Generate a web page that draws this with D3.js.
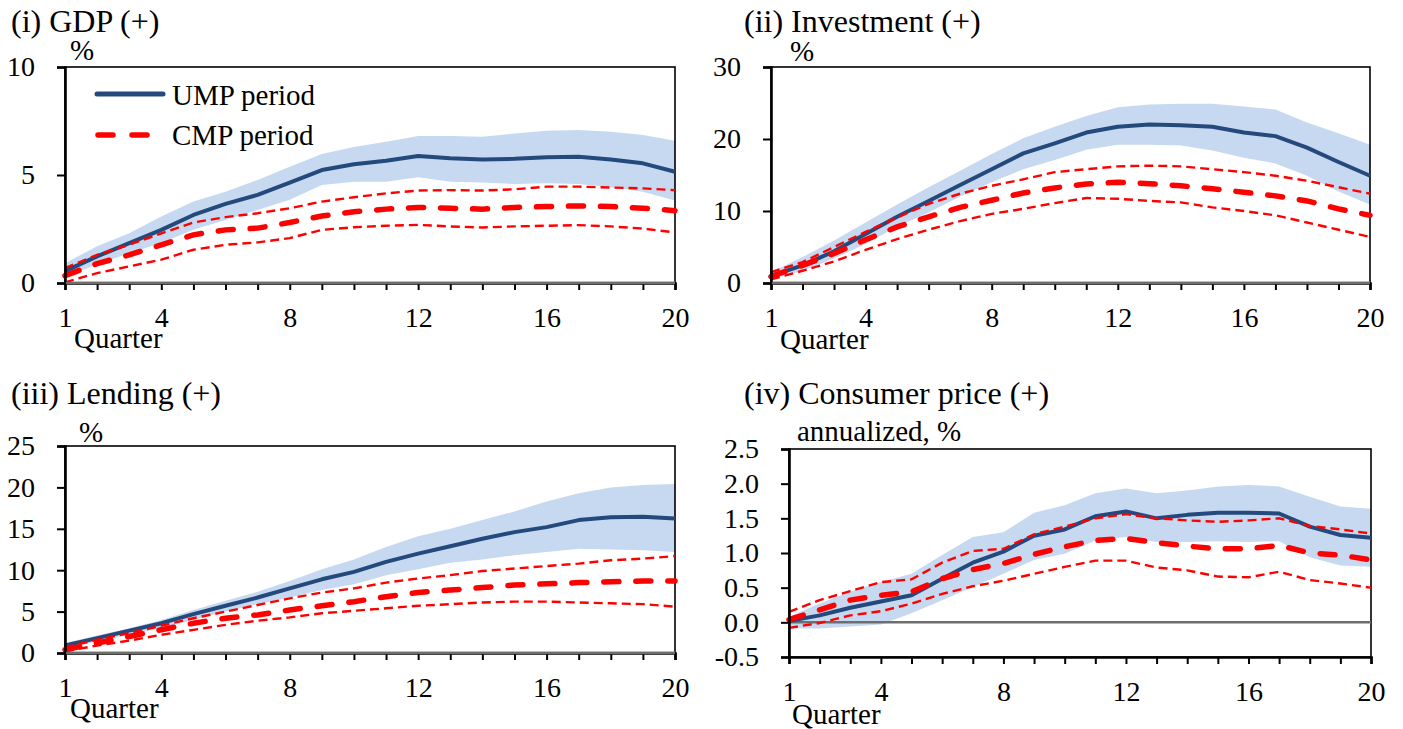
<!DOCTYPE html>
<html>
<head>
<meta charset="utf-8">
<script src="https://cdn.jsdelivr.net/npm/d3@7"></script>
<style>
body { margin: 0; background: #fff; }
text { font-family: "Liberation Serif", "Times New Roman", serif; fill: #000; }
</style>
</head>
<body>
<svg id="chart" width="1403" height="729"></svg>
<script>
// quarters after the shock
var quarters = [1, 2, 3, 4, 5, 6, 7, 8, 9, 10, 11, 12, 13, 14, 15, 16, 17, 18, 19, 20];
var x_tick_labels = [1, 4, 8, 12, 16, 20];

// (i) GDP
var gdp_ump       = [0.55, 1.23, 1.85, 2.46, 3.15, 3.66, 4.08, 4.65, 5.23, 5.50, 5.66, 5.88, 5.77, 5.72, 5.75, 5.82, 5.85, 5.72, 5.54, 5.15];
var gdp_ump_upper = [0.92, 1.70, 2.30, 3.08, 3.77, 4.23, 4.77, 5.38, 5.97, 6.30, 6.54, 6.80, 6.80, 6.77, 6.92, 7.05, 7.08, 7.00, 6.85, 6.58];
var gdp_ump_lower = [0.30, 0.85, 1.38, 1.85, 2.46, 2.92, 3.38, 3.85, 4.54, 4.69, 4.69, 4.90, 4.69, 4.65, 4.58, 4.62, 4.58, 4.43, 4.23, 3.82];
var gdp_cmp       = [0.34, 0.90, 1.30, 1.77, 2.23, 2.46, 2.54, 2.80, 3.10, 3.30, 3.42, 3.50, 3.46, 3.42, 3.50, 3.54, 3.57, 3.54, 3.46, 3.35];
var gdp_cmp_upper = [0.69, 1.30, 1.77, 2.30, 2.80, 3.05, 3.23, 3.46, 3.77, 3.97, 4.15, 4.28, 4.30, 4.28, 4.34, 4.46, 4.46, 4.42, 4.38, 4.30];
var gdp_cmp_lower = [0.03, 0.46, 0.77, 1.08, 1.54, 1.77, 1.88, 2.08, 2.46, 2.58, 2.65, 2.69, 2.62, 2.57, 2.62, 2.65, 2.68, 2.62, 2.52, 2.34];
var gdp_y_ticks = [0, 5, 10];

// (ii) Investment
var inv_ump       = [1.0, 2.45, 4.4, 6.8, 9.2, 11.4, 13.6, 15.8, 18.0, 19.4, 20.9, 21.7, 22.0, 21.9, 21.7, 20.9, 20.4, 18.8, 16.8, 14.9];
var inv_ump_upper = [1.5, 3.6, 5.9, 8.4, 10.9, 13.3, 15.6, 17.9, 20.1, 21.7, 23.2, 24.4, 24.8, 24.9, 24.9, 24.5, 24.1, 22.3, 20.8, 19.2];
var inv_ump_lower = [0.5, 1.7, 3.4, 5.4, 7.8, 9.8, 12.0, 14.0, 15.8, 17.1, 18.5, 19.2, 19.2, 19.1, 18.4, 17.4, 16.6, 14.9, 12.7, 10.9];
var inv_cmp       = [0.9, 2.45, 4.1, 6.0, 7.8, 9.2, 10.5, 11.5, 12.5, 13.2, 13.75, 14.0, 13.8, 13.5, 13.1, 12.6, 12.1, 11.4, 10.3, 9.4];
var inv_cmp_upper = [1.5, 2.9, 5.0, 7.1, 9.1, 11.0, 12.4, 13.5, 14.4, 15.4, 15.8, 16.2, 16.3, 16.2, 15.8, 15.4, 14.9, 14.2, 13.3, 12.4];
var inv_cmp_lower = [0.5, 1.7, 3.0, 4.6, 6.1, 7.4, 8.6, 9.6, 10.3, 11.1, 11.8, 11.7, 11.4, 11.2, 10.5, 10.0, 9.4, 8.4, 7.4, 6.4];
var inv_y_ticks = [0, 10, 20, 30];

// (iii) Lending
var lend_ump       = [0.9, 1.8, 2.7, 3.6, 4.7, 5.7, 6.7, 7.8, 8.9, 9.8, 11.0, 12.0, 12.9, 13.8, 14.6, 15.2, 16.05, 16.4, 16.45, 16.25];
var lend_ump_upper = [1.2, 2.1, 3.0, 4.0, 5.2, 6.3, 7.4, 8.7, 10.1, 11.3, 12.8, 14.1, 15.0, 16.05, 17.1, 18.3, 19.3, 20.0, 20.3, 20.4];
var lend_ump_lower = [0.5, 1.4, 2.2, 3.0, 4.0, 5.0, 5.9, 6.7, 7.6, 8.3, 9.4, 10.1, 10.9, 11.3, 11.8, 12.2, 12.6, 12.5, 12.4, 12.2];
var lend_cmp       = [0.4, 1.2, 2.0, 2.8, 3.6, 4.2, 4.6, 5.2, 5.7, 6.2, 6.8, 7.3, 7.6, 7.9, 8.2, 8.35, 8.5, 8.6, 8.7, 8.7];
var lend_cmp_upper = [0.7, 1.6, 2.4, 3.3, 4.2, 5.0, 5.8, 6.6, 7.3, 7.8, 8.5, 9.0, 9.4, 9.9, 10.2, 10.5, 10.8, 11.2, 11.4, 11.7];
var lend_cmp_lower = [0.2, 0.9, 1.5, 2.2, 2.8, 3.4, 3.9, 4.3, 4.8, 5.1, 5.4, 5.7, 5.9, 6.1, 6.2, 6.2, 6.1, 6.0, 5.9, 5.6];
var lend_y_ticks = [0, 5, 10, 15, 20, 25];

// (iv) Consumer price
var cpi_ump       = [0.02, 0.10, 0.21, 0.30, 0.39, 0.63, 0.86, 1.02, 1.25, 1.34, 1.53, 1.60, 1.50, 1.55, 1.58, 1.58, 1.57, 1.38, 1.26, 1.22];
var cpi_ump_upper = [0.08, 0.27, 0.44, 0.58, 0.70, 0.97, 1.23, 1.30, 1.58, 1.69, 1.86, 1.93, 1.86, 1.90, 1.96, 1.98, 1.96, 1.81, 1.67, 1.64];
var cpi_ump_lower = [-0.09, -0.09, -0.06, -0.03, 0.13, 0.32, 0.51, 0.70, 0.90, 0.99, 1.18, 1.23, 1.16, 1.16, 1.17, 1.16, 1.17, 0.94, 0.82, 0.80];
var cpi_cmp       = [0.04, 0.18, 0.32, 0.39, 0.44, 0.63, 0.76, 0.85, 0.98, 1.09, 1.18, 1.21, 1.15, 1.10, 1.06, 1.06, 1.11, 1.00, 0.97, 0.90];
var cpi_cmp_upper = [0.15, 0.32, 0.45, 0.58, 0.62, 0.86, 1.03, 1.06, 1.27, 1.38, 1.50, 1.56, 1.50, 1.47, 1.45, 1.47, 1.50, 1.39, 1.34, 1.28];
var cpi_cmp_lower = [-0.08, -0.01, 0.10, 0.16, 0.27, 0.41, 0.52, 0.60, 0.70, 0.80, 0.89, 0.89, 0.79, 0.75, 0.66, 0.65, 0.73, 0.61, 0.56, 0.50];
var cpi_y_ticks = [-0.5, 0, 0.5, 1.0, 1.5, 2.0, 2.5];

var BLUE = '#24497d';
var BAND = '#c6d9f0';
var RED = '#ff0000';
var ZERO = '#6e6e6e';

var svg = d3.select('#chart');

var panels = [
	{ title: '(i) GDP (+)', unit: '%', title_x: 11, title_y: 32, unit_x: 70, unit_y: 60,
	  left: 65, right: 675, top: 67, bottom: 283, quarter_x: 74, quarter_y: 348,
	  y_domain: [0, 10], y_ticks: gdp_y_ticks, fmt: d3.format('d'), legend: true,
	  ump: gdp_ump, ump_upper: gdp_ump_upper, ump_lower: gdp_ump_lower,
	  cmp: gdp_cmp, cmp_upper: gdp_cmp_upper, cmp_lower: gdp_cmp_lower },
	{ title: '(ii) Investment (+)', unit: '%', title_x: 744, title_y: 32, unit_x: 790, unit_y: 61,
	  left: 771, right: 1370, top: 67, bottom: 283, quarter_x: 780, quarter_y: 349,
	  y_domain: [0, 30], y_ticks: inv_y_ticks, fmt: d3.format('d'), legend: false,
	  ump: inv_ump, ump_upper: inv_ump_upper, ump_lower: inv_ump_lower,
	  cmp: inv_cmp, cmp_upper: inv_cmp_upper, cmp_lower: inv_cmp_lower },
	{ title: '(iii) Lending (+)', unit: '%', title_x: 11, title_y: 404, unit_x: 79, unit_y: 442,
	  left: 65, right: 675, top: 446, bottom: 653, quarter_x: 70, quarter_y: 718,
	  y_domain: [0, 25], y_ticks: lend_y_ticks, fmt: d3.format('d'), legend: false,
	  ump: lend_ump, ump_upper: lend_ump_upper, ump_lower: lend_ump_lower,
	  cmp: lend_cmp, cmp_upper: lend_cmp_upper, cmp_lower: lend_cmp_lower },
	{ title: '(iv) Consumer price (+)', unit: 'annualized, %', title_x: 744, title_y: 404, unit_x: 797, unit_y: 441,
	  left: 789, right: 1371, top: 449, bottom: 657, quarter_x: 792, quarter_y: 724,
	  y_domain: [-0.5, 2.5], y_ticks: cpi_y_ticks, fmt: function(d) { return d.toFixed(1); }, legend: false,
	  ump: cpi_ump, ump_upper: cpi_ump_upper, ump_lower: cpi_ump_lower,
	  cmp: cpi_cmp, cmp_upper: cpi_cmp_upper, cmp_lower: cpi_cmp_lower }
];

function draw_panel(p)
{
	var g = svg.append('g');

	var x = d3.scaleLinear().domain([1, 20]).range([p.left, p.right]);
	var y = d3.scaleLinear().domain(p.y_domain).range([p.bottom, p.top]);

	// confidence band of the UMP period
	var band = d3.area()
			.x(function(d, i) { return x(quarters[i]); })
			.y0(function(d, i) { return y(p.ump_lower[i]); })
			.y1(function(d) { return y(d); });
	g.append('path')
		.datum(p.ump_upper)
		.attr('d', band)
		.attr('fill', BAND);

	// frame
	g.append('rect')
		.attr('x', p.left).attr('y', p.top)
		.attr('width', p.right - p.left).attr('height', p.bottom - p.top)
		.attr('fill', 'none').attr('stroke', '#000').attr('stroke-width', 1.6);

	// zero line
	g.append('line')
		.attr('x1', p.left).attr('x2', p.right)
		.attr('y1', y(0)).attr('y2', y(0))
		.attr('stroke', ZERO).attr('stroke-width', 2.5);

	var line = d3.line()
			.x(function(d, i) { return x(quarters[i]); })
			.y(function(d) { return y(d); });

	g.append('path').datum(p.ump).attr('d', line)
		.attr('fill', 'none').attr('stroke', BLUE).attr('stroke-width', 4)
		.attr('stroke-linejoin', 'round');

	[p.cmp_upper, p.cmp_lower].forEach(function(s) {
		g.append('path').datum(s).attr('d', line)
			.attr('fill', 'none').attr('stroke', RED).attr('stroke-width', 2.4)
			.attr('stroke-dasharray', '9,5');
	});

	g.append('path').datum(p.cmp).attr('d', line)
		.attr('fill', 'none').attr('stroke', RED).attr('stroke-width', 5.5)
		.attr('stroke-linecap', 'round')
		.attr('stroke-dasharray', '15,17');

	// axes
	var x_axis = g.append('g')
		.attr('transform', 'translate(0,' + p.bottom + ')')
		.call(d3.axisBottom(x)
			.tickValues(quarters)
			.tickSize(7)
			.tickPadding(17)
			.tickFormat(function(d) { return x_tick_labels.indexOf(d) >= 0 ? d : ''; }));

	var y_axis = g.append('g')
		.attr('transform', 'translate(' + p.left + ',0)')
		.call(d3.axisLeft(y)
			.tickValues(p.y_ticks)
			.tickSize(8)
			.tickPadding(22)
			.tickFormat(p.fmt));

	[x_axis, y_axis].forEach(function(a) {
		a.select('.domain').attr('stroke', '#000').attr('stroke-width', 2.6);
		a.selectAll('.tick line').attr('stroke', '#000').attr('stroke-width', 2);
		a.selectAll('.tick text')
			.attr('font-family', '"Liberation Serif", "Times New Roman", serif')
			.attr('font-size', 28).attr('fill', '#000');
	});

	if(p.y_domain[0] == 0)
	{
		g.append('line')
			.attr('x1', p.left + 1).attr('x2', p.right)
			.attr('y1', y(0)).attr('y2', y(0))
			.attr('stroke', ZERO).attr('stroke-width', 2.5);
	}

	// labels
	g.append('text').attr('x', p.title_x).attr('y', p.title_y)
		.attr('font-size', 32).text(p.title);
	g.append('text').attr('x', p.unit_x).attr('y', p.unit_y)
		.attr('font-size', 29).text(p.unit);
	g.append('text').attr('x', p.quarter_x).attr('y', p.quarter_y)
		.attr('font-size', 29).text('Quarter');

	if(p.legend)
	{
		var lg = g.append('g');
		lg.append('line').attr('x1', 97).attr('x2', 163).attr('y1', 94).attr('y2', 94)
			.attr('stroke', BLUE).attr('stroke-width', 5).attr('stroke-linecap', 'round');
		lg.append('text').attr('x', 172).attr('y', 105).attr('font-size', 29).text('UMP period');
		lg.append('line').attr('x1', 98).attr('x2', 150).attr('y1', 135).attr('y2', 135)
			.attr('stroke', RED).attr('stroke-width', 5.5).attr('stroke-linecap', 'round')
			.attr('stroke-dasharray', '15,19');
		lg.append('text').attr('x', 172).attr('y', 145).attr('font-size', 29).text('CMP period');
	}
}

panels.forEach(draw_panel);
</script>
</body>
</html>
